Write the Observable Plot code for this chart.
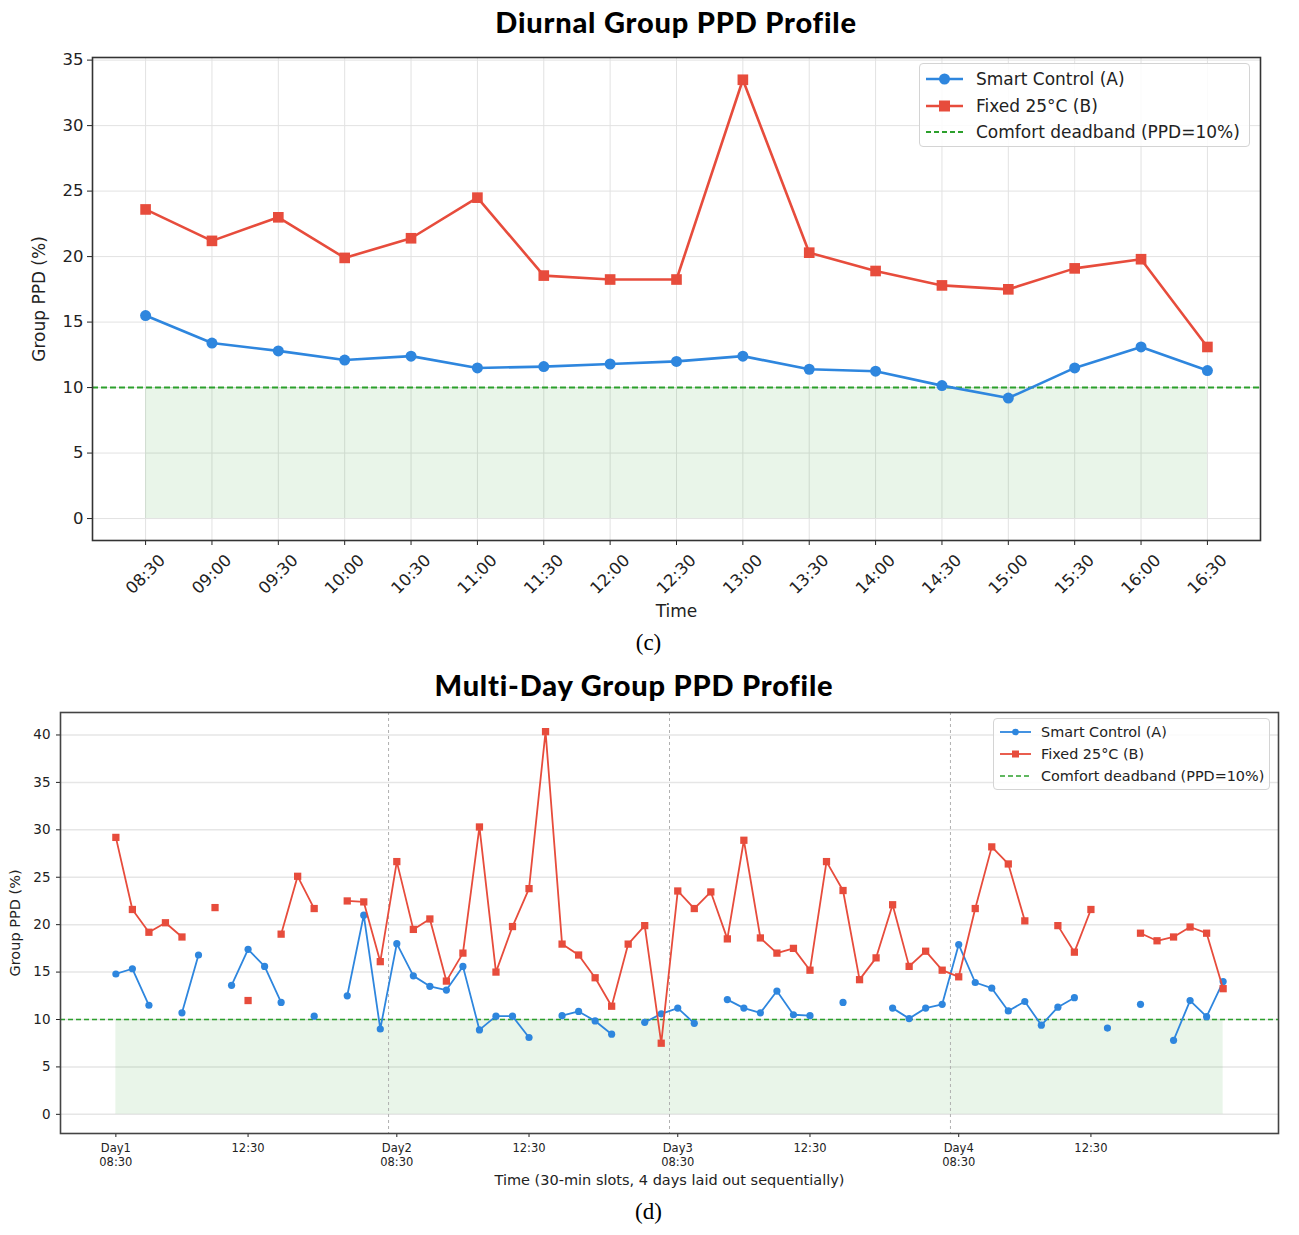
<!DOCTYPE html>
<html>
<head>
<meta charset="utf-8">
<script src="https://cdn.jsdelivr.net/npm/d3@7"></script>
<script src="https://cdn.jsdelivr.net/npm/@observablehq/plot@0.6"></script>
<style>
  body { margin: 0; background: #fff; }
  #page { position: relative; width: 1299px; height: 1235px; background: #fff; overflow: hidden; }
  .title { position: absolute; font-family: Lato, sans-serif; font-weight: 900; font-size: 29px; letter-spacing: 0.8px; line-height: 32px; color: #000; text-align: center; white-space: nowrap; }
  .cap { position: absolute; left: 0; width: 1297px; text-align: center; font-family: "Liberation Serif", serif; font-size: 23px; line-height: 28px; color: #000; }
  .plotbox { position: absolute; left: 0; }
  .legend { position: absolute; background: rgba(255,255,255,0.85); border: 1px solid #d4d4d4; border-radius: 4px; box-sizing: border-box; font-family: "DejaVu Sans", sans-serif; color: #222; }
  .legend .row { position: absolute; left: 0; display: flex; align-items: center; white-space: nowrap; }
  .legend svg { display: block; }
</style>
</head>
<body>
<div id="page"></div>
<script>
// ---- Diurnal profile (one averaged day, 30-min slots) ----
const diurnalTimes = ["08:30","09:00","09:30","10:00","10:30","11:00","11:30","12:00","12:30",
                      "13:00","13:30","14:00","14:30","15:00","15:30","16:00","16:30"];
const diurnalSmart = [15.5, 13.4, 12.8, 12.1, 12.4, 11.5, 11.6, 11.8, 12.0,
                      12.4, 11.4, 11.25, 10.15, 9.2, 11.5, 13.1, 11.3];
const diurnalFixed = [23.6, 21.2, 23.0, 19.9, 21.4, 24.5, 18.55, 18.25, 18.25,
                      33.5, 20.3, 18.9, 17.8, 17.5, 19.1, 19.8, 13.1];
const diurnalYTicks = [0, 5, 10, 15, 20, 25, 30, 35];

// ---- Multi-day profile (4 days x 17 slots, null = no reading) ----
const multiSmart = [
  14.8, 15.35, 11.5, null, 10.7, 16.8, null, 13.6, 17.4, 15.6, 11.8, null, 10.35, null, 12.5, 21.0, 9.0,
  18.0, 14.6, 13.5, 13.1, 15.6, 8.9, 10.35, 10.35, 8.1, null, 10.4, 10.85, 9.85, 8.45, null, 9.7, 10.6,
  11.2, 9.6, null, 12.1, 11.2, 10.7, 13.0, 10.5, 10.4, null, 11.8, null, null, 11.2, 10.1, 11.2, 11.6,
  17.9, 13.9, 13.3, 10.9, 11.9, 9.4, 11.3, 12.3, null, 9.1, null, 11.6, null, 7.8, 12.0, 10.3, 14.0
];
const multiFixed = [
  29.2, 21.6, 19.2, 20.2, 18.7, null, 21.8, null, 12.0, null, 19.0, 25.1, 21.7, null, 22.5, 22.4, 16.1,
  26.65, 19.5, 20.6, 14.05, 17.0, 30.3, 15.0, 19.8, 23.8, 40.35, 17.95, 16.8, 14.4, 11.4, 17.95, 19.9, 7.5,
  23.55, 21.7, 23.45, 18.5, 28.9, 18.6, 17.0, 17.5, 15.2, 26.65, 23.6, 14.2, 16.5, 22.1, 15.6, 17.2, 15.2,
  14.5, 21.7, 28.2, 26.4, 20.4, null, 19.9, 17.1, 21.6, null, null, 19.1, 18.3, 18.7, 19.75, 19.1, 13.25
];
const multiTickSlots  = [0, 8, 17, 25, 34, 42, 51, 59];
const multiTickLabels = ["Day1\n08:30", "12:30", "Day2\n08:30", "12:30",
                         "Day3\n08:30", "12:30", "Day4\n08:30", "12:30"];
const dayBreaks = [16.5, 33.5, 50.5];
const multiYTicks = [0, 5, 10, 15, 20, 25, 30, 35, 40];

const deadband = 10;
const seriesNames = ["Smart Control (A)", "Fixed 25°C (B)", "Comfort deadband (PPD=10%)"];

const BLUE = "#2e86de", RED = "#e74c3c", GREEN = "#2ca02c";

const page = document.getElementById("page");

function addDiv(cls, text, css) {
  const el = document.createElement("div");
  el.className = cls;
  el.textContent = text;
  Object.assign(el.style, css);
  page.appendChild(el);
  return el;
}

// Legend with matplotlib-like line+marker swatches
function addLegend(box, rows, opt) {
  const lg = document.createElement("div");
  lg.className = "legend";
  Object.assign(lg.style, box);
  rows.forEach((r, k) => {
    const row = document.createElement("div");
    row.className = "row";
    row.style.top = (opt.firstRow + k * opt.rowGap - opt.rowH / 2) + "px";
    row.style.height = opt.rowH + "px";
    row.style.fontSize = opt.fontSize + "px";
    const ns = "http://www.w3.org/2000/svg";
    const sv = document.createElementNS(ns, "svg");
    sv.setAttribute("width", opt.swW);
    sv.setAttribute("height", opt.rowH);
    sv.style.marginLeft = opt.swX + "px";
    sv.style.marginRight = opt.gap + "px";
    const ln = document.createElementNS(ns, "line");
    ln.setAttribute("x1", 0); ln.setAttribute("x2", opt.swW);
    ln.setAttribute("y1", opt.rowH / 2); ln.setAttribute("y2", opt.rowH / 2);
    ln.setAttribute("stroke", r.color);
    ln.setAttribute("stroke-width", r.dash ? opt.dashW : opt.lineW);
    if (r.dash) ln.setAttribute("stroke-dasharray", r.dash);
    sv.appendChild(ln);
    if (r.marker === "circle") {
      const c = document.createElementNS(ns, "circle");
      c.setAttribute("cx", opt.swW / 2); c.setAttribute("cy", opt.rowH / 2);
      c.setAttribute("r", opt.markR); c.setAttribute("fill", r.color);
      sv.appendChild(c);
    } else if (r.marker === "square") {
      const s = document.createElementNS(ns, "rect");
      s.setAttribute("x", opt.swW / 2 - opt.markS / 2); s.setAttribute("y", opt.rowH / 2 - opt.markS / 2);
      s.setAttribute("width", opt.markS); s.setAttribute("height", opt.markS);
      s.setAttribute("fill", r.color);
      sv.appendChild(s);
    }
    row.appendChild(sv);
    const tx = document.createElement("span");
    tx.textContent = r.label;
    row.appendChild(tx);
    lg.appendChild(row);
  });
  page.appendChild(lg);
}

function setFont(svg, selector, size) {
  svg.querySelectorAll(selector).forEach(t => { t.style.fontSize = size; t.setAttribute("font-size", size); });
}

const legendRows = [
  {label: seriesNames[0], color: BLUE, marker: "circle"},
  {label: seriesNames[1], color: RED, marker: "square"},
  {label: seriesNames[2], color: GREEN, dash: "5,3"}
];

// ================= (c) Diurnal chart =================
addDiv("title", "Diurnal Group PPD Profile", {left: "92px", width: "1168px", top: "6px"});

const diurnalRows = diurnalTimes.map((t, i) => ({i, t, a: diurnalSmart[i], b: diurnalFixed[i]}));

const chart1 = Plot.plot({
  width: 1299, height: 585,
  marginTop: 12, marginBottom: 90, marginLeft: 92, marginRight: 39,
  style: {fontFamily: "'DejaVu Sans', sans-serif", fontSize: "16.5px", color: "#222", background: "transparent", overflow: "visible"},
  x: {type: "linear", domain: [-0.8, diurnalTimes.length - 1 + 0.8],
      ticks: diurnalRows.map(d => d.i), tickFormat: () => "", tickSize: 5,
      label: "Time", labelAnchor: "center", labelOffset: 76, labelArrow: "none"},
  y: {domain: [-1.675, 35.2], ticks: diurnalYTicks, tickSize: 5, tickPadding: 4,
      label: "Group PPD (%)", labelAnchor: "center", labelOffset: 60, labelArrow: "none"},
  marks: [
    Plot.ruleY(diurnalYTicks, {stroke: "#e2e2e2", strokeWidth: 1}),
    Plot.ruleX(diurnalRows, {x: "i", stroke: "#e2e2e2", strokeWidth: 1}),
    Plot.areaY(diurnalRows, {x: "i", y1: 0, y2: deadband, fill: GREEN, fillOpacity: 0.1}),
    Plot.ruleY([deadband], {stroke: GREEN, strokeWidth: 2, strokeDasharray: "6,3"}),
    Plot.lineY(diurnalRows, {x: "i", y: "a", stroke: BLUE, strokeWidth: 2.6}),
    Plot.dot(diurnalRows, {x: "i", y: "a", r: 5.5, fill: BLUE, symbol: "circle"}),
    Plot.lineY(diurnalRows, {x: "i", y: "b", stroke: RED, strokeWidth: 2.6}),
    Plot.dot(diurnalRows, {x: "i", y: "b", r: 6, fill: RED, symbol: "square"}),
    // time-of-day tick labels, rotated 45° and centred under each tick
    Plot.text(diurnalRows, {x: "i", text: "t", frameAnchor: "bottom", dy: 34, rotate: -45,
                            textAnchor: "middle", lineAnchor: "middle", fontSize: 16.5, fill: "#222"}),
    Plot.frame({stroke: "#333", strokeWidth: 1.6})
  ]
});
chart1.classList.add("plotbox");
chart1.style.top = "45px";
setFont(chart1, "[aria-label='x-axis label'] text, [aria-label='y-axis label'] text", "17px");
page.appendChild(chart1);

addLegend({left: "919px", top: "63px", width: "331px", height: "84px"}, legendRows,
  {firstRow: 15, rowGap: 26.5, rowH: 22, fontSize: 17, swX: 6, swW: 37, gap: 13,
   lineW: 2.6, dashW: 2, markR: 5.5, markS: 11});

addDiv("cap", "(c)", {top: "629px"});

// ================= (d) Multi-day chart =================
addDiv("title", "Multi-Day Group PPD Profile", {left: "0px", width: "1268px", top: "669px"});

const multiRows = multiSmart.map((a, slot) => ({slot, a, b: multiFixed[slot]}));
const multiTicks = multiTickSlots.map((s, k) => ({s, label: multiTickLabels[k]}));

const chart2 = Plot.plot({
  width: 1299, height: 490,
  marginTop: 12, marginBottom: 57, marginLeft: 60, marginRight: 21,
  style: {fontFamily: "'DejaVu Sans', sans-serif", fontSize: "13.5px", color: "#222", background: "transparent", overflow: "visible"},
  x: {type: "linear", domain: [-3.35, multiSmart.length - 1 + 3.35],
      ticks: multiTickSlots, tickFormat: () => "", tickSize: 4,
      label: "Time (30-min slots, 4 days laid out sequentially)", labelAnchor: "center", labelOffset: 51, labelArrow: "none"},
  y: {domain: [-2.02, 42.37], ticks: multiYTicks, tickSize: 4, tickPadding: 6,
      label: "Group PPD (%)", labelAnchor: "center", labelOffset: 51, labelArrow: "none"},
  marks: [
    Plot.ruleY(multiYTicks, {stroke: "#e6e6e6", strokeWidth: 1.5}),
    Plot.areaY(multiRows, {x: "slot", y1: 0, y2: deadband, fill: GREEN, fillOpacity: 0.1}),
    Plot.ruleX(dayBreaks, {stroke: "#b0b0b0", strokeWidth: 1, strokeDasharray: "3,3"}),
    Plot.ruleY([deadband], {stroke: GREEN, strokeWidth: 1.6, strokeDasharray: "5,3"}),
    Plot.lineY(multiRows, {x: "slot", y: "a", stroke: BLUE, strokeWidth: 1.8}),
    Plot.dot(multiRows, {x: "slot", y: "a", r: 3.6, fill: BLUE, symbol: "circle"}),
    Plot.lineY(multiRows, {x: "slot", y: "b", stroke: RED, strokeWidth: 1.8}),
    Plot.dot(multiRows, {x: "slot", y: "b", r: 4.1, fill: RED, symbol: "square"}),
    // day / time tick labels (two lines at each day start)
    Plot.text(multiTicks, {x: "s", text: "label", frameAnchor: "bottom", dy: 9, lineAnchor: "top",
                           lineHeight: 1.18, fontSize: 11.5, fill: "#222"}),
    Plot.frame({stroke: "#444", strokeWidth: 1.6})
  ]
});
chart2.classList.add("plotbox");
chart2.style.top = "700px";
setFont(chart2, "[aria-label='x-axis label'] text, [aria-label='y-axis label'] text", "14.5px");
page.appendChild(chart2);

addLegend({left: "993px", top: "718px", width: "277px", height: "72px"}, legendRows,
  {firstRow: 13, rowGap: 22, rowH: 18, fontSize: 14.4, swX: 6, swW: 31, gap: 10,
   lineW: 1.8, dashW: 1.6, markR: 3.3, markS: 7});

addDiv("cap", "(d)", {top: "1198px"});
</script>
</body>
</html>
